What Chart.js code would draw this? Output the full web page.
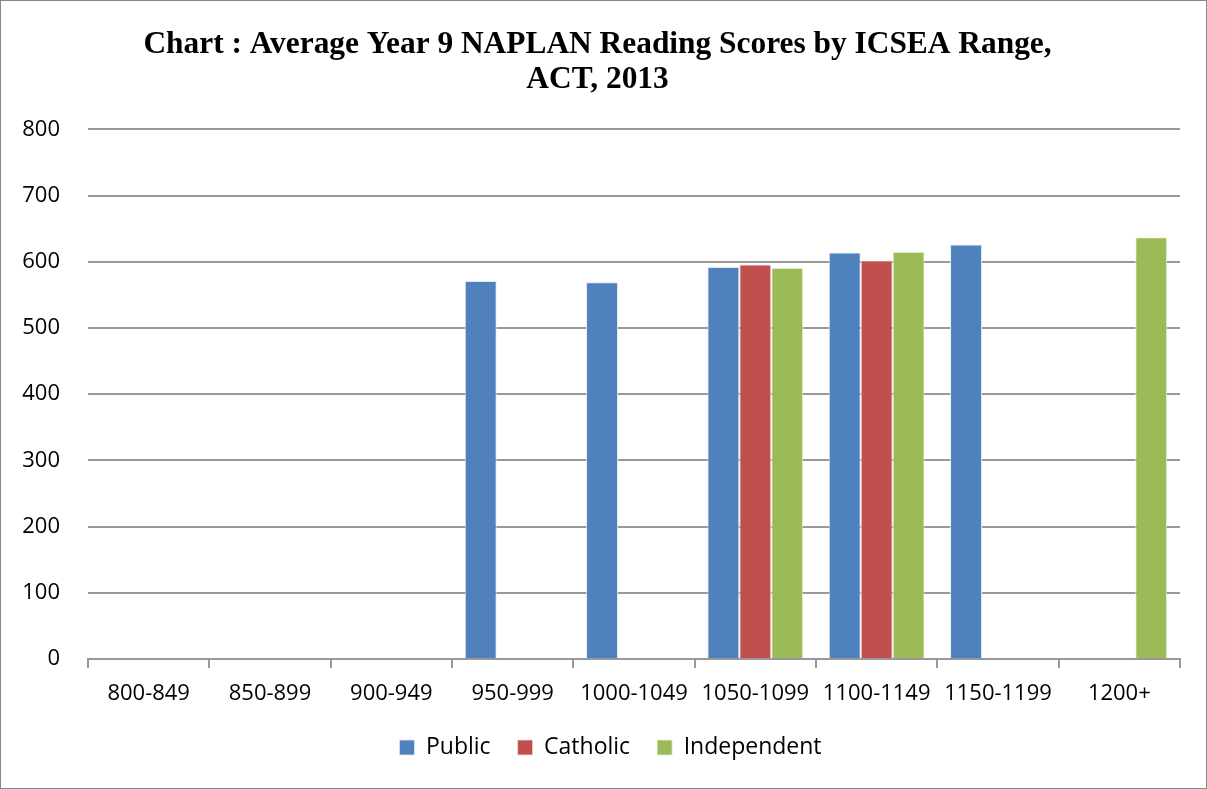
<!DOCTYPE html>
<html><head><meta charset="utf-8">
<script src="https://cdn.jsdelivr.net/npm/chart.js@4/dist/chart.umd.min.js"></script>
<style>
html,body{margin:0;padding:0;background:#fff;}
#wrap{position:absolute;left:0;top:0;width:1205px;height:787px;border:1px solid #888;}
</style></head>
<body><div id="wrap"><canvas id="c" width="1205" height="787"></canvas></div>
<script>
const categories = ["800-849","850-899","900-949","950-999","1000-1049","1050-1099","1100-1149","1150-1199","1200+"];
const publicScores = [null,null,null,571,569,592,614,626,null];
const catholicScores = [null,null,null,null,null,596,602,null,null];
const independentScores = [null,null,null,null,null,591,615,null,637];
const yTicks = [0,100,200,300,400,500,600,700,800];

const sans = '"Open Sans","Noto Sans",sans-serif';
const shiftLegend = {
  id:'shiftLegend',
  afterLayout(chart){ if(chart.legend){ chart.legend.left += 13; chart.legend.right += 13; } }
};
new Chart(document.getElementById('c'), {
  type: 'bar',
  plugins:[shiftLegend],
  data: {
    labels: categories,
    datasets: [
      {label:'Public', data: publicScores, backgroundColor:'#4f81bd', borderColor:'#dfe8f2', borderWidth:{left:1,right:1,top:1,bottom:0}},
      {label:'Catholic', data: catholicScores, backgroundColor:'#c0504d', borderColor:'#f3dede', borderWidth:{left:1,right:1,top:1,bottom:0}},
      {label:'Independent', data: independentScores, backgroundColor:'#9bbb59', borderColor:'#eef4e0', borderWidth:{left:1,right:1,top:1,bottom:0}}
    ]
  },
  options: {
    responsive:false, animation:false,
    layout:{padding:{left:14,right:26,top:26,bottom:19}},
    datasets:{bar:{categoryPercentage:0.79, barPercentage:1.0}},
    plugins:{
      title:{display:true, text:['Chart : Average Year 9 NAPLAN Reading Scores by ICSEA Range,','ACT, 2013'],
        color:'#000', font:{family:'"Liberation Serif", "Times New Roman", serif', size:31.4, weight:'bold', lineHeight:1.12}, padding:{top:0,bottom:32}},
      legend:{position:'bottom', labels:{color:'#000', font:{family:sans, size:23}, boxWidth:15, boxHeight:15, padding:27}},
      tooltip:{enabled:false}
    },
    scales:{
      x:{
        afterFit: s => { s.height = 50; },
        grid:{offset:true, drawOnChartArea:false, color:'#999999', tickLength:9, lineWidth:2},
        border:{color:'#999999', width:2},
        ticks:{color:'#000', font:{family:sans, size:22}, padding:13, maxRotation:0, autoSkip:false}
      },
      y:{
        min:0, max:800,
        afterFit: s => { s.width = 73; },
        afterBuildTicks: s => { s.ticks = yTicks.map(v=>({value:v})); },
        grid:{color:'#999999', drawTicks:false, lineWidth:2},
        border:{display:false},
        ticks:{color:'#000', font:{family:sans, size:22}, padding:28}
      }
    }
  }
});
</script></body></html>
